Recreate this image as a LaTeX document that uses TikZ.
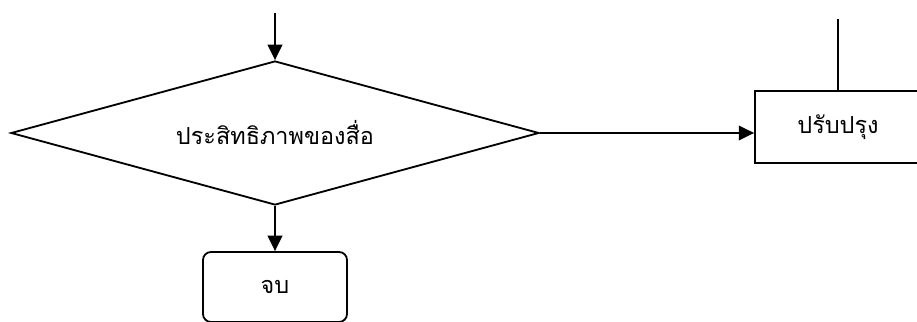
\documentclass[tikz,border=0pt]{standalone}
\usepackage{fontspec}
\usetikzlibrary{positioning,shapes.geometric,arrows.meta}
\newfontfamily\thaifont[Script=Thai]{Loma}

\begin{document}
\begin{tikzpicture}[x=0.3mm, y=-0.3mm, line width=0.55mm,
    font=\thaifont\fontsize{20}{24}\selectfont,
    flow/.style={-{Triangle[length=4.6mm, width=4.4mm]}},
    decide/.style={draw, diamond, aspect=3.67, inner sep=0pt, minimum width=158.4mm, minimum height=43.2mm},
    act/.style={draw, rectangle, minimum width=49.8mm, minimum height=21.6mm},
    term/.style={draw, rectangle, rounded corners=2.4mm, minimum width=43.2mm, minimum height=21mm}]

  % frame of the picture
  \clip (0,0) rectangle (917,322);

  % decision
  \node[decide] (dec) at (275,133) {ประสิทธิภาพของสื่อ};

  % end
  \node[term] (stop) at (275,287) {จบ};

  % improve
  \node[act] (fix) at (838,127) {ปรับปรุง};

  % loose ends
  \coordinate (in) at (275,13);
  \coordinate (back) at (838,19);

  % arrows
  \draw[flow] (in) -- (dec.north);
  \draw[flow] (dec.south) -- (stop.north);
  \draw[flow] (dec.east) -- (dec.east -| fix.west);
  \draw (back) -- (fix.north);
\end{tikzpicture}
\end{document}
